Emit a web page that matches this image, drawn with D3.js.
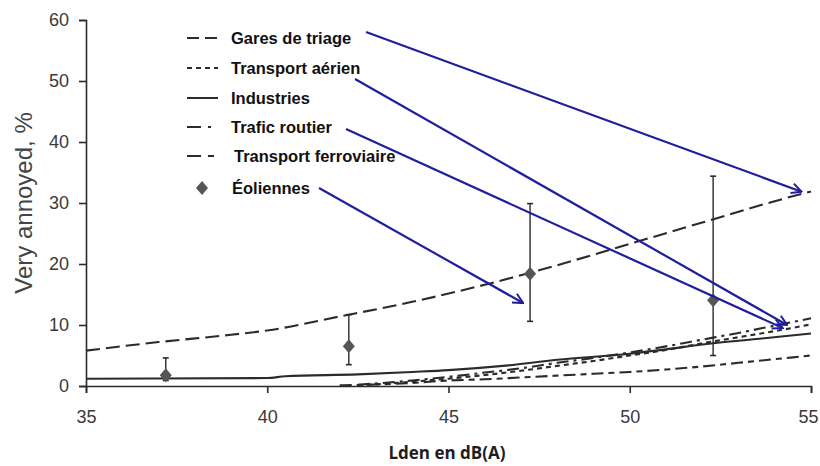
<!DOCTYPE html>
<html><head><meta charset="utf-8">
<script src="https://cdn.jsdelivr.net/npm/d3@7"></script>
<style>body{margin:0;background:#fff}svg{display:block}</style>
</head><body>
<svg id="c" width="820" height="466"></svg>
<script>
// ---- data ----
const xTicks = [35, 40, 45, 50, 55];
const yTicks = [0, 10, 20, 30, 40, 50, 60];
const seriesNames = ["Gares de triage", "Transport aérien", "Industries", "Trafic routier", "Transport ferroviaire"];
const garesX = [35, 37, 39, 40, 42, 44, 46, 48, 50, 52, 54, 55];
const garesY = [5.8, 7.2, 8.4, 9.1, 11.4, 13.8, 16.6, 19.8, 23.3, 26.8, 30.3, 31.9];
const aerienX = [42.5, 44, 45, 46, 47, 48, 49, 50, 51, 52, 53, 54, 55];
const aerienY = [0.1, 0.7, 1.2, 1.8, 2.5, 3.3, 4.1, 5.0, 5.9, 7.0, 8.0, 9.0, 10.1];
const industX = [35, 40, 40.5, 42.5, 44, 45, 46.5, 48, 50, 51, 52, 53.5, 55];
const industY = [1.2, 1.3, 1.6, 1.9, 2.3, 2.6, 3.3, 4.3, 5.3, 6.0, 6.8, 7.7, 8.6];
const routierX = [42.5, 44, 45, 46, 47, 48, 49, 50, 51, 52, 53, 54, 55];
const routierY = [0.2, 0.9, 1.5, 2.2, 2.9, 3.8, 4.6, 5.5, 6.5, 7.6, 8.7, 9.9, 11.1];
const ferroX = [42, 44, 45, 46, 47, 48, 49, 50, 51, 52, 53, 54, 55];
const ferroY = [0.1, 0.5, 0.9, 1.1, 1.4, 1.7, 2.0, 2.3, 2.7, 3.2, 3.8, 4.4, 5.0];
const eolX = [37.2, 42.25, 47.25, 52.3];
const eolY = [1.75, 6.5, 18.4, 14.05];
const eolLow = [0.9, 3.5, 10.6, 5.0];
const eolHigh = [4.6, 11.7, 29.9, 34.4];
const xTitle = "Lden en dB(A)";
const yTitle = "Very annoyed, %";
const eolName = "Éoliennes";
// arrow targets in data units
const arrowEndX = [54.74, 54.34, 54.22, 47.06];
const arrowEndY = [31.85, 10.0, 9.5, 13.6];

// ---- layout ----
const svg = d3.select("#c");
const x = d3.scaleLinear().domain([35, 55]).range([86, 811]);
const y = d3.scaleLinear().domain([0, 60]).range([386, 20]);
const ink = "#2b2b2b";

// axes
const xAxis = svg.append("g").attr("transform", "translate(0,386)")
  .call(d3.axisBottom(x).tickValues(xTicks).tickSize(7).tickPadding(17).tickFormat(d3.format("d")));
const yAxis = svg.append("g").attr("transform", "translate(86,0)")
  .call(d3.axisLeft(y).tickValues(yTicks).tickSize(7).tickPadding(10).tickFormat(d3.format("d")));
[xAxis, yAxis].forEach(g => {
  g.select(".domain").attr("stroke", ink).attr("stroke-width", 1.6);
  g.selectAll(".tick line").attr("stroke", ink).attr("stroke-width", 1.6);
  g.selectAll(".tick text").attr("fill", "#3a3a3a")
    .style("font-family", "'Liberation Sans', Arial, sans-serif").style("font-size", "18px");
});
xAxis.selectAll(".tick text").filter(d => d === 55).attr("dx", "-3");

svg.append("text").attr("transform", "translate(32,203) rotate(-90)")
  .attr("text-anchor", "middle").attr("fill", "#444")
  .style("font-family", "'Liberation Sans', Arial, sans-serif").style("font-size", "24px")
  .text(yTitle);
svg.append("text").attr("x", 447).attr("y", 459).attr("text-anchor", "middle").attr("fill", "#1e1e1e")
  .style("font-family", "'Open Sans', 'Noto Sans', sans-serif").style("font-size", "17px").style("font-weight", "700")
  .text(xTitle);

// curves
const dashes = ["14,6", "5,4", null, "12,5,3,5", "12,5,6,5"];
const seriesX = [garesX, aerienX, industX, routierX, ferroX];
const seriesY = [garesY, aerienY, industY, routierY, ferroY];
const line = d3.line().x(d => x(d[0])).y(d => y(d[1])).curve(d3.curveMonotoneX);
seriesX.forEach((xs, i) => {
  svg.append("path").datum(xs.map((v, j) => [v, seriesY[i][j]]))
    .attr("d", line).attr("fill", "none").attr("stroke", ink)
    .attr("stroke-width", 2.1).attr("stroke-dasharray", dashes[i]);
});

// error bars + diamonds
const diamond = "M0,-7 L6,0 L0,7 L-6,0 Z";
eolX.forEach((xv, i) => {
  const g = svg.append("g");
  g.append("line").attr("x1", x(xv)).attr("x2", x(xv)).attr("y1", y(eolLow[i])).attr("y2", y(eolHigh[i]))
    .attr("stroke", ink).attr("stroke-width", 1.4);
  [eolLow[i], eolHigh[i]].forEach(v => g.append("line")
    .attr("x1", x(xv) - 3).attr("x2", x(xv) + 3).attr("y1", y(v)).attr("y2", y(v))
    .attr("stroke", ink).attr("stroke-width", 1.6));
  g.append("path").attr("d", diamond).attr("transform", `translate(${x(xv)},${y(eolY[i])})`).attr("fill", "#555");
});

// legend
const legRows = [38, 68, 98, 127, 156];
const leg = svg.append("g");
seriesNames.forEach((n, i) => {
  leg.append("line").attr("x1", 187).attr("x2", 218).attr("y1", legRows[i]).attr("y2", legRows[i])
    .attr("stroke", ink).attr("stroke-width", 2)
    .attr("stroke-dasharray", [ "12,6", "5,4", null, "14,7,3,9", "14,7,6,9" ][i]);
  leg.append("text").attr("x", i === 4 ? 234 : 231).attr("y", legRows[i]).attr("dy", "0.36em")
    .attr("fill", "#111").style("font-family", "'Liberation Sans', Arial, sans-serif")
    .style("font-size", "16.5px").style("font-weight", "700").text(n);
});
leg.append("path").attr("d", diamond).attr("transform", "translate(202,188)").attr("fill", "#555");
leg.append("text").attr("x", 232).attr("y", 188).attr("dy", "0.36em")
  .attr("fill", "#111").style("font-family", "'Liberation Sans', Arial, sans-serif")
  .style("font-size", "16.5px").style("font-weight", "700").text(eolName);

// arrows
const blue = "#1f1f9e";
const defs = svg.append("defs");
defs.append("marker").attr("id", "ah").attr("viewBox", "0 0 12 12").attr("refX", 11).attr("refY", 6)
  .attr("markerWidth", 12).attr("markerHeight", 12).attr("markerUnits", "userSpaceOnUse").attr("orient", "auto")
  .append("path").attr("d", "M1,1 L11,6 L1,11").attr("fill", "none").attr("stroke", blue).attr("stroke-width", 2);
const arrowStarts = [[366, 32], [355, 79], [346, 129], [319, 188]];
arrowStarts.forEach((s, i) => {
  svg.append("line").attr("x1", s[0]).attr("y1", s[1])
    .attr("x2", x(arrowEndX[i])).attr("y2", y(arrowEndY[i]))
    .attr("stroke", blue).attr("stroke-width", 2.2).attr("marker-end", "url(#ah)");
});
</script>
</body></html>
